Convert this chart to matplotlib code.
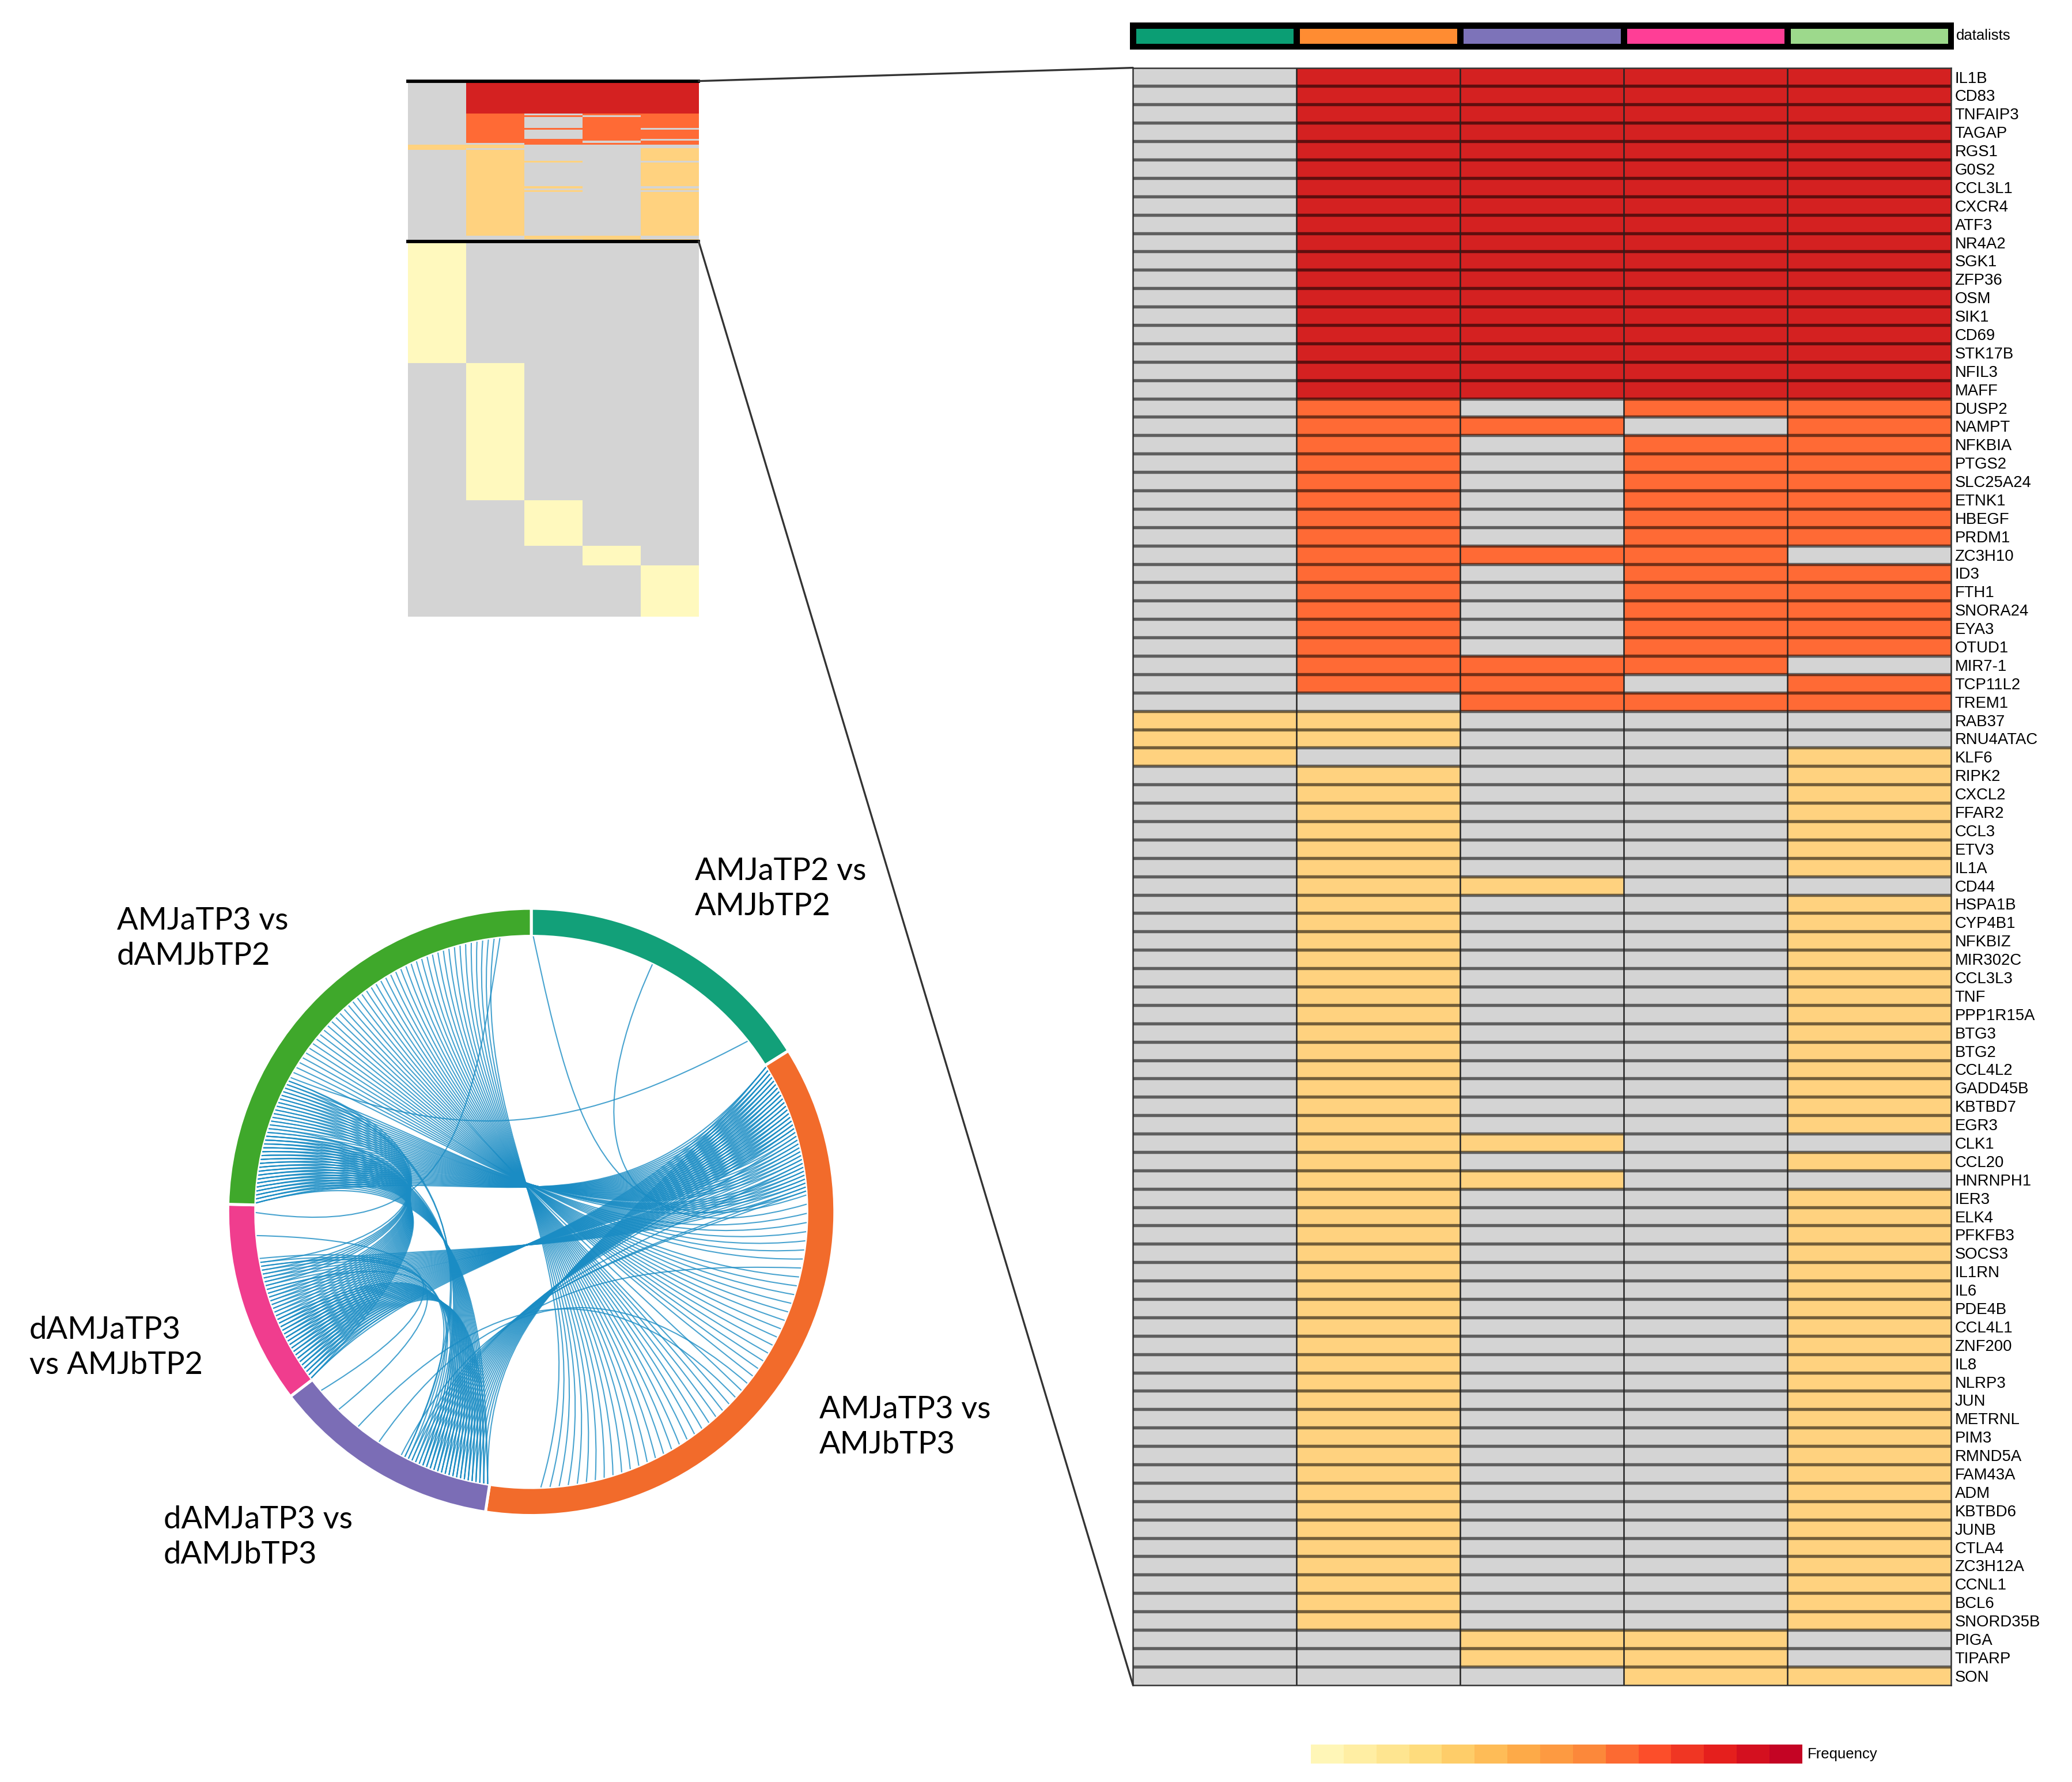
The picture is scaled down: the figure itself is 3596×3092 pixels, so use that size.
import numpy as np
import matplotlib.pyplot as plt
from matplotlib.colors import ListedColormap, BoundaryNorm
from matplotlib.patches import Wedge, PathPatch, ConnectionPatch
from matplotlib.path import Path

plt.rcParams['font.family'] = ['Liberation Sans', 'DejaVu Sans']

# ---- data ----
list_labels = ['AMJaTP2 vs\nAMJbTP2', 'AMJaTP3 vs\nAMJbTP3', 'dAMJaTP3 vs\ndAMJbTP3',
               'dAMJaTP3\nvs AMJbTP2', 'AMJaTP3 vs\ndAMJbTP2']

genes = ['IL1B', 'CD83', 'TNFAIP3', 'TAGAP', 'RGS1', 'G0S2', 'CCL3L1', 'CXCR4', 'ATF3',
         'NR4A2', 'SGK1', 'ZFP36', 'OSM', 'SIK1', 'CD69', 'STK17B', 'NFIL3', 'MAFF',
         'DUSP2', 'NAMPT', 'NFKBIA', 'PTGS2', 'SLC25A24', 'ETNK1', 'HBEGF', 'PRDM1',
         'ZC3H10', 'ID3', 'FTH1', 'SNORA24', 'EYA3', 'OTUD1', 'MIR7-1', 'TCP11L2', 'TREM1',
         'RAB37', 'RNU4ATAC', 'KLF6', 'RIPK2', 'CXCL2', 'FFAR2', 'CCL3', 'ETV3', 'IL1A',
         'CD44', 'HSPA1B', 'CYP4B1', 'NFKBIZ', 'MIR302C', 'CCL3L3', 'TNF', 'PPP1R15A',
         'BTG3', 'BTG2', 'CCL4L2', 'GADD45B', 'KBTBD7', 'EGR3', 'CLK1', 'CCL20', 'HNRNPH1',
         'IER3', 'ELK4', 'PFKFB3', 'SOCS3', 'IL1RN', 'IL6', 'PDE4B', 'CCL4L1', 'ZNF200',
         'IL8', 'NLRP3', 'JUN', 'METRNL', 'PIM3', 'RMND5A', 'FAM43A', 'ADM', 'KBTBD6',
         'JUNB', 'CTLA4', 'ZC3H12A', 'CCNL1', 'BCL6', 'SNORD35B', 'PIGA', 'TIPARP', 'SON']

# membership of each gene in the 5 datalists (columns)
membership = (['01111'] * 18 +
              ['01011', '01101', '01011', '01011', '01011', '01011', '01011', '01011',
               '01110', '01011', '01011', '01011', '01011', '01011', '01110', '01101', '00111'] +
              ['11000', '11000', '10001'] + ['01001'] * 6 + ['01100'] + ['01001'] * 13 +
              ['01100', '01001', '01100'] + ['01001'] * 24 + ['00110', '00110', '00011'])

# genes found only in one list (overview heatmap, lower part)
unique_counts = [67, 75, 25, 11, 28]

freq_colors = ['#d4d4d4', '#fff9be', '#ffd27f', '#ff6a35', '#d42121']
list_colors = ['#0b9e74', '#ff8c32', '#7d73b9', '#ff3e96', '#9dd98c']
ring_colors = ['#12a079', '#f26b2b', '#7b6db6', '#f03d8e', '#3fa82b']
legend_steps = 15

# ---- layout helper (reference grid 1560 x 1341) ----
W, H = 1560.0, 1341.0


def box(x0, y0, x1, y1):
    return [x0 / W, 1 - y1 / H, (x1 - x0) / W, (y1 - y0) / H]


fig = plt.figure(figsize=(3596 / 300, 3092 / 300), dpi=300)

M = np.array([[int(c) for c in s] for s in membership])
freq = M.sum(axis=1)
vals = M * freq[:, None]
n_genes = len(genes)
cmap = ListedColormap(freq_colors)
norm = BoundaryNorm(np.arange(-0.5, 5.5, 1), cmap.N)

# main heatmap
ax = fig.add_axes(box(853, 51, 1469, 1268))
ax.pcolormesh(np.arange(6), np.arange(n_genes + 1), vals, cmap=cmap, norm=norm)
ax.set_xlim(0, 5)
ax.set_ylim(n_genes, 0)
for y in range(1, n_genes):
    ax.axhline(y, color='black', alpha=0.55, lw=1.3)
for x in range(1, 5):
    ax.axvline(x, color='#222222', lw=0.6)
ax.set_xticks([])
ax.set_yticks(np.arange(n_genes) + 0.5)
ax.set_yticklabels(genes, fontsize=6.6)
ax.yaxis.tick_right()
ax.tick_params(axis='y', length=0, pad=1.5)
for sp in ax.spines.values():
    sp.set_linewidth(0.6)
    sp.set_color('#333333')

# datalists bar
axb = fig.add_axes(box(853, 19, 1469, 35))
axb.pcolormesh(np.arange(6), [0, 1], np.arange(5)[None, :], cmap=ListedColormap(list_colors),
               edgecolors='black', linewidth=2.2)
axb.set_xlim(0, 5)
axb.set_ylim(0, 1)
axb.set_xticks([])
axb.set_yticks([])
for sp in axb.spines.values():
    sp.set_linewidth(2.4)
axb.text(1.006, 0.5, 'datalists', transform=axb.transAxes, va='center', ha='left', fontsize=6.2)

# overview heatmap
blocks = [vals]
for k, n in enumerate(unique_counts):
    blk = np.zeros((n, 5))
    blk[:, k] = 1
    blocks.append(blk)
ov = np.vstack(blocks)
axo = fig.add_axes(box(307, 61, 526, 464))
axo.imshow(ov, cmap=cmap, norm=norm, aspect='auto', interpolation='nearest',
           extent=(0, 5, ov.shape[0], 0))
axo.axis('off')
axo.plot([0, 5], [0, 0], color='black', lw=1.4, clip_on=False)
axo.plot([0, 5], [n_genes, n_genes], color='black', lw=1.4, clip_on=False)

for ya in [0, n_genes]:
    con = ConnectionPatch(xyA=(5, ya), coordsA=axo.transData, xyB=(0, ya), coordsB=ax.transData,
                          color='#333333', lw=0.8)
    fig.add_artist(con)

# circos plot
axc = fig.add_axes(box(125, 637, 675, 1187))
axc.set_xlim(-275 / 228.5, 275 / 228.5)
axc.set_ylim(-275 / 228.5, 275 / 228.5)
axc.set_aspect('equal')
axc.axis('off')

list_sizes = M.sum(axis=0) + np.array(unique_counts)
extent = list_sizes / list_sizes.sum() * 360
starts = 90 - np.concatenate([[0], np.cumsum(extent)[:-1]])
r_out, r_w = 1.0, 0.092
r_in = r_out - r_w
for k in range(5):
    axc.add_patch(Wedge((0, 0), r_out, starts[k] - extent[k], starts[k], width=r_w,
                        facecolor=ring_colors[k], edgecolor='white', lw=1.2))

pos = {}
for k in range(5):
    idx = np.where(M[:, k] == 1)[0]
    hi = [i for i in idx if freq[i] >= 3]
    lo = [i for i in idx if freq[i] == 2]
    n_k = list_sizes[k]
    slot = {i: j for j, i in enumerate(hi)}
    if lo:
        spread = np.linspace(len(hi), len(hi) + 0.9 * (n_k - len(hi)) - 1, len(lo))
        for i, s in zip(lo, spread):
            slot[i] = s
    for i, s in slot.items():
        ang = np.deg2rad(starts[k] - (s + 0.5) / n_k * extent[k])
        pos[(i, k)] = np.array([r_in * np.cos(ang), r_in * np.sin(ang)])

# bundling hubs, one per list, part way towards the centre
mid = np.deg2rad(starts - extent / 2)
hubs = 0.3 * np.column_stack([np.cos(mid), np.sin(mid)])

for i in range(n_genes):
    ks = np.where(M[i])[0]
    for a in range(len(ks)):
        for b in range(a + 1, len(ks)):
            p0, p1 = pos[(i, ks[a])], pos[(i, ks[b])]
            path = Path([p0, hubs[ks[a]], hubs[ks[b]], p1],
                        [Path.MOVETO, Path.CURVE4, Path.CURVE4, Path.CURVE4])
            axc.add_patch(PathPatch(path, facecolor='none', edgecolor='#1a8cc4', lw=0.5, alpha=0.8))

label_pos = [(523, 645), (617, 1050), (123, 1133), (22, 990), (88, 682)]
for (x, y), txt in zip(label_pos, list_labels):
    fig.text(x / W, 1 - y / H, txt, ha='left', va='top', fontsize=13,
             family=['Lato', 'DejaVu Sans'], linespacing=1.3)

# frequency legend
axl = fig.add_axes(box(987, 1313, 1357, 1327))
steps = plt.cm.YlOrRd(np.linspace(0.06, 0.85, legend_steps))
axl.imshow(np.arange(legend_steps)[None, :], cmap=ListedColormap(steps), aspect='auto',
           extent=(0, legend_steps, 0, 1))
axl.axis('off')
axl.text(1.01, 0.5, 'Frequency', transform=axl.transAxes, va='center', ha='left', fontsize=6.2)

fig.savefig('out.png', dpi=300)
